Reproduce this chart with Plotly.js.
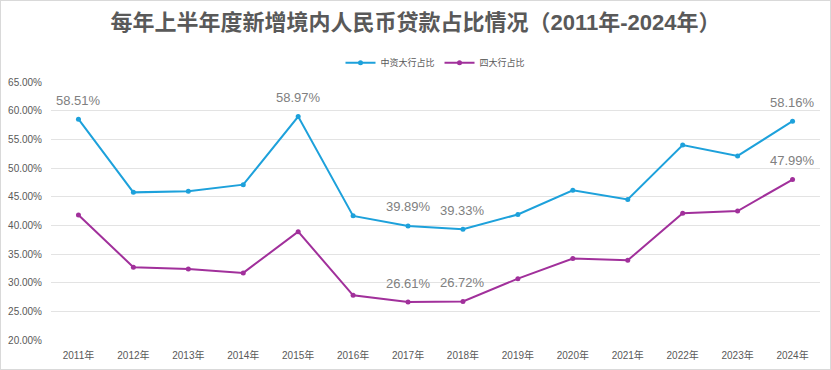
<!DOCTYPE html>
<html><head><meta charset="utf-8">
<script src="https://cdn.plot.ly/plotly-3.0.1.min.js"></script>
<style>
html,body{margin:0;padding:0;background:#fff;}
#wrap{position:relative;width:831px;height:370px;}
#chart{width:831px;height:370px;}
#frame{position:absolute;left:0;top:0;width:829px;height:368px;border:1px solid #d9d9d9;pointer-events:none;}
</style></head>
<body><div id="wrap"><div id="chart"></div><div id="frame"></div></div>
<script>
const years = ["2011年","2012年","2013年","2014年","2015年","2016年","2017年","2018年","2019年","2020年","2021年","2022年","2023年","2024年"];
const zhongziValues = [58.51,45.75,45.95,47.10,58.97,41.65,39.89,39.33,41.90,46.10,44.50,54.00,52.10,58.16];
const sidaValues = [41.80,32.70,32.40,31.70,38.90,27.80,26.61,26.72,30.70,34.20,33.90,42.10,42.50,47.99];
const zhongziLabelIdx = [0,4,6,7,13];
const sidaLabelIdx = [6,7,13];
const seriesNames = ["中资大行占比","四大行占比"];
const colors = ['#1da1db','#a1309b'];

const font = '"Liberation Sans", "Noto Sans CJK SC", sans-serif';
const traces = [
 {x: years, y: zhongziValues, name: seriesNames[0], type:'scatter', mode:'lines+markers',
  line:{color:colors[0], width:2}, marker:{color:colors[0], size:5}, hoverinfo:'y'},
 {x: years, y: sidaValues, name: seriesNames[1], type:'scatter', mode:'lines+markers',
  line:{color:colors[1], width:2}, marker:{color:colors[1], size:5}, hoverinfo:'y'}
];
function ann(vals, idx){
  return idx.map(i => ({x: years[i], y: vals[i], xref:'x', yref:'y', text: vals[i].toFixed(2)+'%',
    showarrow:false, yshift:19, font:{size:13, color:'#808080', family:font}}));
}
const layout = {
 width:831, height:370,
 margin:{l:51, r:11, t:82, b:30},
 paper_bgcolor:'#fff', plot_bgcolor:'#fff',
 font:{family:font, color:'#595959'},
 title:{text:'<b>每年上半年度新增境内人民币贷款占比情况（2011年-2024年）</b>', x:0.5, xanchor:'center', y:0.94, yanchor:'middle',
        font:{size:22, color:'#595959', family:font}},
 showlegend:true,
 legend:{orientation:'h', x:0.5, xanchor:'center', y:1.075, yanchor:'middle', font:{size:9, color:'#595959'}, itemwidth:30},
 annotations: ann(zhongziValues, zhongziLabelIdx).concat(ann(sidaValues, sidaLabelIdx)),
 xaxis:{type:'category', range:[-0.5, years.length-0.5], showgrid:false, zeroline:false, showline:false, ticks:'', automargin:false,
        ticklabelstandoff:8, tickfont:{size:10, color:'#595959'}, fixedrange:true},
 yaxis:{range:[20,65], dtick:5, tick0:20, tickformat:'.2f', ticksuffix:'%', showgrid:true, gridcolor:'#e3e3e3', gridwidth:1,
        zeroline:false, showline:false, ticks:'', automargin:false, ticklabelstandoff:8,
        tickfont:{size:10, color:'#595959'}, fixedrange:true}
};
Plotly.newPlot('chart', traces, layout, {displayModeBar:false, staticPlot:true});
</script></body></html>
